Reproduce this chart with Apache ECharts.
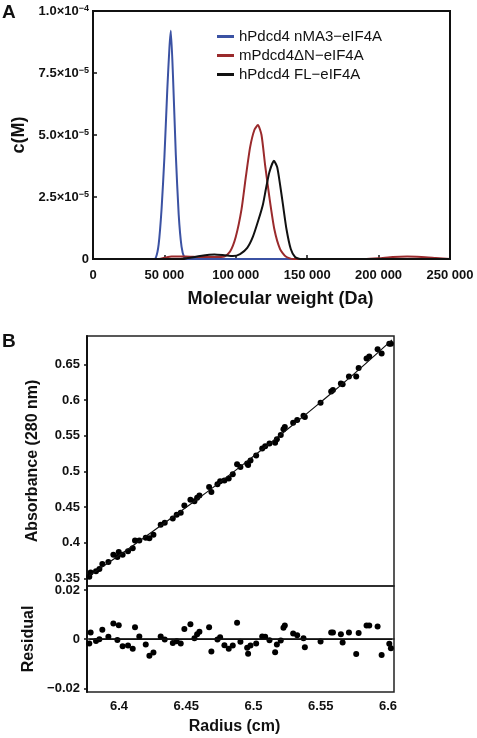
<!DOCTYPE html>
<html><head><meta charset="utf-8">
<script src="https://cdn.jsdelivr.net/npm/echarts@6/dist/echarts.min.js"></script>
<style>html,body{margin:0;padding:0;background:#fff}#c{width:477px;height:738px}</style>
</head><body><div id="c"></div>
<script>
// ---------- Panel A data ----------
const seriesNames = ['hPdcd4 nMA3\u2212eIF4A', 'mPdcd4\u0394N\u2212eIF4A', 'hPdcd4 FL\u2212eIF4A'];
const mwBlue = [0, 42000, 44000, 46000, 48000, 50000, 52000, 53500, 54500, 56000, 58000, 60000, 62000, 64000, 66000, 250000];
const cBlue  = [0, 0, 0.05e-5, 0.6e-5, 2.0e-5, 4.1e-5, 6.8e-5, 8.5e-5, 9.2e-5, 7.4e-5, 4.2e-5, 1.8e-5, 0.5e-5, 0.05e-5, 0, 0];
const mwRed  = [0, 45000, 50000, 55000, 65000, 75000, 85000, 92000, 96000, 100000, 104000, 107000, 110000, 113000, 115500, 118000, 120500, 123500, 127000, 131000, 135000, 140000, 190000, 200000, 210000, 220000, 230000, 240000, 250000];
const cRed   = [0, 0, 0.05e-5, 0.1e-5, 0.1e-5, 0.08e-5, 0.08e-5, 0.1e-5, 0.3e-5, 0.9e-5, 2.0e-5, 3.3e-5, 4.5e-5, 5.2e-5, 5.4e-5, 5.0e-5, 3.8e-5, 2.5e-5, 1.2e-5, 0.4e-5, 0.1e-5, 0, 0, 0.03e-5, 0.08e-5, 0.1e-5, 0.08e-5, 0.04e-5, 0];
const mwBlack = [0, 60000, 68000, 75000, 85000, 92000, 98000, 103000, 108000, 112000, 116000, 119000, 121000, 123500, 126700, 129000, 131000, 133000, 135500, 138500, 141500, 145000, 250000];
const cBlack  = [0, 0, 0.05e-5, 0.12e-5, 0.18e-5, 0.15e-5, 0.12e-5, 0.2e-5, 0.45e-5, 0.9e-5, 1.6e-5, 2.2e-5, 2.8e-5, 3.5e-5, 3.96e-5, 3.7e-5, 3.0e-5, 2.2e-5, 1.2e-5, 0.4e-5, 0.08e-5, 0, 0];
const aXTicks = [0, 50000, 100000, 150000, 200000, 250000];
const aXLabels = ['0', '50 000', '100 000', '150 000', '200 000', '250 000'];
const aYTicks = [0, 2.5e-5, 5.0e-5, 7.5e-5, 1.0e-4];
const aYLabels = ['0', '2.5\u00d710{s|\u22125}', '5.0\u00d710{s|\u22125}', '7.5\u00d710{s|\u22125}', '1.0\u00d710{s|\u22124}'];

// ---------- Panel B data ----------
const radius = [6.3779,6.3789,6.3829,6.3854,6.3876,6.3921,6.3958,6.3988,6.3998,6.4027,
  6.4067,6.4102,6.4119,6.4151,6.4199,6.4226,6.4256,6.4310,6.4340,6.4400,
  6.4429,6.4459,6.4486,6.4531,6.4561,6.4581,6.4598,6.4670,6.4687,6.4732,
  6.4752,6.4784,6.4816,6.4846,6.4878,6.4903,6.4953,6.4960,6.4978,6.5020,
  6.5065,6.5087,6.5119,6.5161,6.5174,6.5203,6.5223,6.5233,6.5295,6.5325,
  6.5372,6.5382,6.5499,6.5578,6.5591,6.5650,6.5663,6.5710,6.5764,6.5782,
  6.5841,6.5861,6.5923,6.5953,6.6010,6.6022];
const absorbance = [0.352,0.358,0.360,0.363,0.370,0.373,0.383,0.380,0.387,0.383,
  0.388,0.392,0.403,0.403,0.407,0.406,0.411,0.425,0.428,0.434,
  0.439,0.442,0.452,0.460,0.458,0.463,0.466,0.478,0.471,0.482,
  0.486,0.487,0.490,0.496,0.510,0.506,0.511,0.509,0.515,0.522,
  0.532,0.535,0.539,0.540,0.545,0.551,0.559,0.562,0.568,0.572,
  0.578,0.576,0.596,0.612,0.614,0.623,0.622,0.633,0.633,0.645,
  0.658,0.661,0.671,0.665,0.679,0.679];
const residual = [-0.0018,0.0027,-0.0007,0.0000,0.0038,0.0010,0.0064,-0.0003,0.0057,-0.0029,
  -0.0026,-0.0039,0.0048,0.0011,-0.0022,-0.0068,-0.0054,0.0011,-0.0001,-0.0016,
  -0.0008,-0.0018,0.0041,0.0061,0.0004,0.0020,0.0030,0.0048,-0.0050,-0.0001,
  0.0008,-0.0025,-0.0039,-0.0026,0.0067,-0.0011,-0.0035,-0.0059,-0.0026,-0.0018,
  0.0011,0.0010,-0.0004,-0.0053,-0.0022,-0.0005,0.0046,0.0056,0.0023,0.0016,
  0.0004,-0.0033,-0.0010,0.0027,0.0027,0.0020,-0.0014,0.0027,-0.0060,0.0025,
  0.0056,0.0056,0.0052,-0.0064,-0.0019,-0.0037];
const fitR = [6.378, 6.4, 6.425, 6.45, 6.475, 6.5, 6.525, 6.55, 6.575, 6.6, 6.603];
const fitA = [0.354, 0.382, 0.4155, 0.4495, 0.4845, 0.521, 0.5585, 0.597, 0.637, 0.679, 0.684];
const zeroR = [6.378, 6.603];
const zeroV = [0, 0];
const bXTicks = [6.4, 6.45, 6.5, 6.55, 6.6];
const bYTicks = [0.35, 0.4, 0.45, 0.5, 0.55, 0.6, 0.65];
const bRTicks = [-0.02, 0, 0.02];
const bRLabels = ['\u22120.02', '0', '0.02'];

const zip = (a, b) => a.map((v, i) => [v, b[i]]);
const nearestIdx = (arr, v) => { let k = 0; arr.forEach((t, i) => { if (Math.abs(t - v) < Math.abs(arr[k] - v)) k = i; }); return k; };

const FONT = 'Liberation Sans, Arial, sans-serif';
const tickLbl = { fontFamily: FONT, fontWeight: 'bold', fontSize: 13, color: '#111' };
const colors = ['#3b52a3', '#9a2a2c', '#111111'];

const chart = echarts.init(document.getElementById('c'), null, { renderer: 'canvas' });
chart.setOption({
  animation: false,
  backgroundColor: '#fff',
  textStyle: { fontFamily: FONT },
  graphic: [
    { type: 'text', left: 2, top: 3, style: { text: 'A', font: 'bold 19px ' + FONT, fill: '#111' } },
    { type: 'text', left: 2, top: 332, style: { text: 'B', font: 'bold 19px ' + FONT, fill: '#111' } }
  ],
  legend: {
    data: seriesNames, orient: 'vertical', left: 212, top: 24, itemGap: 4,
    icon: 'rect', itemWidth: 17, itemHeight: 3, selectedMode: false,
    textStyle: { fontFamily: FONT, fontSize: 15, color: '#111' }
  },
  grid: [
    { left: 93, top: 11, width: 357, height: 248, show: true, borderColor: '#111', borderWidth: 2, backgroundColor: 'transparent' },
    { left: 87, top: 336, width: 307, height: 250, show: true, borderColor: '#222', borderWidth: 1.5, backgroundColor: 'transparent' },
    { left: 87, top: 586, width: 307, height: 106, show: true, borderColor: '#222', borderWidth: 1.5, backgroundColor: 'transparent' }
  ],
  xAxis: [
    { gridIndex: 0, type: 'value', min: 0, max: 250000, interval: 50000,
      axisLine: { lineStyle: { color: '#111', width: 2 } },
      axisTick: { inside: true, length: 4, lineStyle: { color: '#111', width: 1.5 } },
      axisLabel: Object.assign({ margin: 10, formatter: v => aXLabels[nearestIdx(aXTicks, v)] }, tickLbl),
      splitLine: { show: false },
      name: 'Molecular weight (Da)', nameLocation: 'middle', nameGap: 31,
      nameTextStyle: { fontFamily: FONT, fontWeight: 'bold', fontSize: 18, color: '#111', padding: [0, 0, 0, 18] } },
    { gridIndex: 1, type: 'value', min: 6.3762, max: 6.6045,
      axisLine: { show: false }, axisTick: { show: false }, axisLabel: { show: false }, splitLine: { show: false } },
    { gridIndex: 2, type: 'value', min: 6.3762, max: 6.6045,
      axisLine: { lineStyle: { color: '#222', width: 1.5 } },
      axisTick: { show: false, customValues: bXTicks },
      axisLabel: Object.assign({ margin: 8, customValues: bXTicks, formatter: v => String(+v.toFixed(2)) }, tickLbl),
      splitLine: { show: false },
      name: 'Radius (cm)', nameLocation: 'middle', nameGap: 27,
      nameTextStyle: { fontFamily: FONT, fontWeight: 'bold', fontSize: 16, color: '#111', padding: [0, 12, 0, 0] } }
  ],
  yAxis: [
    { gridIndex: 0, type: 'value', min: 0, max: 1e-4, interval: 2.5e-5,
      axisLine: { lineStyle: { color: '#111', width: 2 } },
      axisTick: { inside: true, length: 4, lineStyle: { color: '#111', width: 1.5 } },
      axisLabel: Object.assign({ margin: 4, formatter: v => aYLabels[nearestIdx(aYTicks, v)],
        rich: { s: { fontFamily: FONT, fontWeight: 'bold', fontSize: 9, verticalAlign: 'top', lineHeight: 10, color: '#111' } } }, tickLbl),
      splitLine: { show: false },
      name: 'c(M)', nameLocation: 'middle', nameGap: 49, nameRotate: 90,
      nameTextStyle: { fontFamily: FONT, fontWeight: 'bold', fontSize: 18, color: '#111' } },
    { gridIndex: 1, type: 'value', min: 0.3392, max: 0.6897,
      axisLine: { lineStyle: { color: '#111', width: 2 } },
      axisTick: { show: true, length: 3, customValues: bYTicks, lineStyle: { color: '#111', width: 1.5 } },
      axisLabel: Object.assign({ margin: 7, customValues: bYTicks, formatter: v => String(+v.toFixed(2)) }, tickLbl),
      splitLine: { show: false },
      name: 'Absorbance (280 nm)', nameLocation: 'middle', nameGap: 46, nameRotate: 90,
      nameTextStyle: { fontFamily: FONT, fontWeight: 'bold', fontSize: 16, color: '#111' } },
    { gridIndex: 2, type: 'value', min: -0.0215, max: 0.02163,
      axisLine: { lineStyle: { color: '#111', width: 2 } },
      axisTick: { show: true, length: 3, customValues: bRTicks, lineStyle: { color: '#111', width: 1.5 } },
      axisLabel: Object.assign({ margin: 7, customValues: bRTicks, formatter: v => bRLabels[nearestIdx(bRTicks, v)] }, tickLbl),
      splitLine: { show: false },
      name: 'Residual', nameLocation: 'middle', nameGap: 45, nameRotate: 90,
      nameTextStyle: { fontFamily: FONT, fontWeight: 'bold', fontSize: 16, color: '#111' } }
  ],
  series: [
    { name: seriesNames[0], type: 'line', xAxisIndex: 0, yAxisIndex: 0, data: zip(mwBlue, cBlue), showSymbol: false, smooth: 0.2,
      lineStyle: { color: colors[0], width: 2 }, itemStyle: { color: colors[0] } },
    { name: seriesNames[1], type: 'line', xAxisIndex: 0, yAxisIndex: 0, data: zip(mwRed, cRed), showSymbol: false, smooth: 0.2,
      lineStyle: { color: colors[1], width: 2 }, itemStyle: { color: colors[1] } },
    { name: seriesNames[2], type: 'line', xAxisIndex: 0, yAxisIndex: 0, data: zip(mwBlack, cBlack), showSymbol: false, smooth: 0.2,
      lineStyle: { color: colors[2], width: 2 }, itemStyle: { color: colors[2] } },
    { type: 'line', xAxisIndex: 1, yAxisIndex: 1, data: zip(fitR, fitA), showSymbol: false, smooth: true,
      lineStyle: { color: '#111', width: 1.2 } },
    { type: 'scatter', xAxisIndex: 1, yAxisIndex: 1, data: zip(radius, absorbance), symbolSize: 6,
      itemStyle: { color: '#000', opacity: 1 } },
    { type: 'line', xAxisIndex: 2, yAxisIndex: 2, data: zip(zeroR, zeroV), showSymbol: false,
      lineStyle: { color: '#111', width: 1.5 } },
    { type: 'scatter', xAxisIndex: 2, yAxisIndex: 2, data: zip(radius, residual), symbolSize: 6,
      itemStyle: { color: '#000', opacity: 1 } }
  ]
});
</script>
</body></html>
